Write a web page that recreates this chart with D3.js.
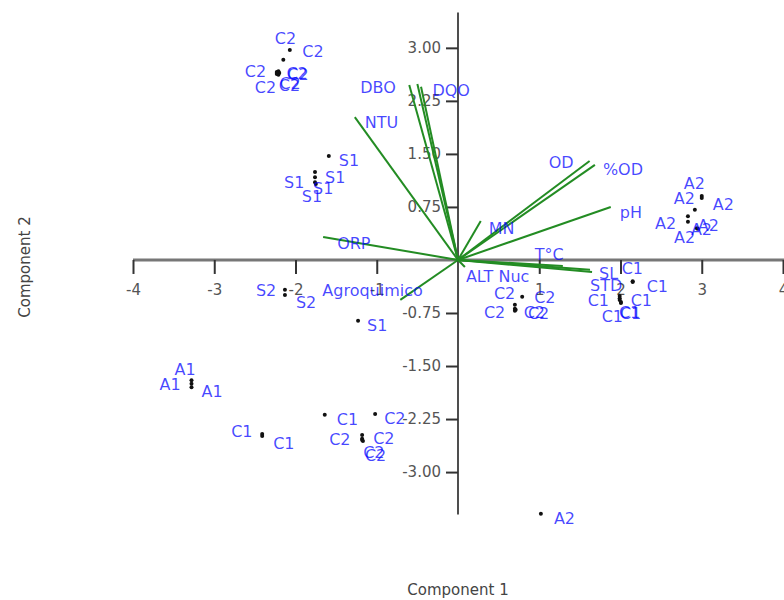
<!DOCTYPE html>
<html><head><meta charset="utf-8">
<script src="https://cdn.jsdelivr.net/npm/d3@7"></script>
<style>body{margin:0;background:#fff}</style>
</head><body>
<svg id="chart" width="784" height="600"></svg>
<script>
// ---------- DATA ----------
const sampleLabels = ["C2","C2","C2","C2","C2","C2","C2","C2",
  "S1","S1","S1","S1","S1","S2","S2","S1","A1","A1","A1",
  "C1","C1","C1","C2","C2","C2","C2","C2","A2",
  "C2","C2","C2","C2","C2","C1","C1","C1","C1","C1","C1","C1",
  "A2","A2","A2","A2","A2","A2","A2"];
const scoreX = [-2.07,-2.15,-2.23,-2.21,-2.20,-2.23,-2.21,-2.23,
  -1.59,-1.76,-1.76,-1.76,-1.75,-2.13,-2.13,-1.23,-3.28,-3.28,-3.28,
  -2.41,-2.41,-1.64,-1.02,-1.18,-1.18,-1.18,-1.17,1.02,
  0.79,0.70,0.70,0.71,0.70,2.15,2.15,1.99,1.99,1.99,2.005,2.005,
  3.00,2.915,3.00,2.83,2.83,2.94,2.95];
const scoreY = [2.97,2.83,2.66,2.67,2.645,2.63,2.62,2.645,
  1.47,1.245,1.17,1.10,1.075,-0.42,-0.495,-0.86,-1.70,-1.75,-1.80,
  -2.46,-2.49,-2.19,-2.18,-2.475,-2.53,-2.545,-2.56,-3.59,
  -0.52,-0.635,-0.69,-0.705,-0.72,-0.30,-0.31,-0.51,-0.54,-0.565,-0.595,-0.61,
  0.905,0.71,0.875,0.62,0.54,0.45,0.44];

const variableNames = ["DBO","DQO","","NTU","OD","%OD","pH","MN","ORP","Agroquimico","SL","STD","T°C","ALT Nuc"];
const loadingX = [-0.60,-0.50,-0.455,-1.27,1.62,1.685,1.88,0.28,-1.66,-0.71,1.65,1.625,1.29,0.085];
const loadingY = [2.475,2.49,2.45,2.02,1.40,1.345,0.75,0.55,0.325,-0.565,-0.17,-0.14,-0.085,-0.10];

const xTickValues = [-4,-3,-2,-1,1,2,3,4];
const yTickValues = [3,2.25,1.5,0.75,-0.75,-1.5,-2.25,-3];
const xTitle = "Component 1";
const yTitle = "Component 2";

// ---------- LAYOUT (label nudges in px) ----------
const sampleLabelNudge = [[-15,-12],[19,-8],[-32,0],[8,2],[8,1],[-22,13],[1,9],[2,12],
  [10,4],[10,5],[-31,5],[-2,6],[-14,12],[-29,1],[11,7],[9,5],[-17,-11],[-32,1],[10,4],
  [-31,-2],[11,7],[12,5],[9,4],[-33,4],[11,0],[1,12],[2,14],[13,5],
  [12,1],[-21,-11],[-31,4],[8,3],[13,3],[-11,-13],[14,5],[-32,4],[11,2],[-18,16],[-2,10],[-1,10],
  [-18,-13],[-21,-11],[11,6],[-33,7],[-14,16],[-6,1],[0,-3]];
const variableLabelNudge = [[-49,2],[15,6],[0,0],[10,5],[-41,1],[8,5],[9,5],[8,7],[14,6],[-78,-10],[7,1],[0,16],[-28,-12],[1,9]];

const FONT = "DejaVu Sans, Verdana, sans-serif";
const svg = d3.select("#chart");
const x = d3.scaleLinear().domain([-4, 4]).range([133, 783]);
const y = d3.scaleLinear().domain([-3.6, 3.5]).range([514.5, 12.5]);
const x0 = x(0), y0 = y(0);

// axis lines
svg.append("line").attr("x1", x(-4)).attr("x2", 784).attr("y1", y0).attr("y2", y0)
  .attr("stroke", "#777").attr("stroke-width", 3);
svg.append("line").attr("x1", x0).attr("x2", x0).attr("y1", y(3.5)).attr("y2", y(-3.6))
  .attr("stroke", "#222").attr("stroke-width", 1.6);

// axes ticks
const gx = svg.append("g").attr("transform", `translate(0,${y0})`)
  .call(d3.axisBottom(x).tickValues(xTickValues).tickSize(14).tickPadding(10).tickFormat(d => String(d)));
const gy = svg.append("g").attr("transform", `translate(${x0},0)`)
  .call(d3.axisLeft(y).tickValues(yTickValues).tickSize(12).tickPadding(5).tickFormat(d => d.toFixed(2)));
[gx, gy].forEach(g => {
  g.select(".domain").remove();
  g.selectAll(".tick line").attr("stroke", "#333").attr("stroke-width", 2);
  g.selectAll(".tick text").attr("fill", "#555").style("font-family", FONT).style("font-size", "15px");
});

// loading vectors
svg.append("g").selectAll("line").data(variableNames).join("line")
  .attr("x1", x0).attr("y1", y0)
  .attr("x2", (d, i) => x(loadingX[i])).attr("y2", (d, i) => y(loadingY[i]))
  .attr("stroke", "#238c23").attr("stroke-width", 2);

// score points
svg.append("g").selectAll("circle").data(sampleLabels).join("circle")
  .attr("cx", (d, i) => x(scoreX[i])).attr("cy", (d, i) => y(scoreY[i]))
  .attr("r", 2).attr("fill", "#111");

// sample labels
svg.append("g").selectAll("text").data(sampleLabels).join("text")
  .attr("x", (d, i) => x(scoreX[i]) + sampleLabelNudge[i][0])
  .attr("y", (d, i) => y(scoreY[i]) + sampleLabelNudge[i][1])
  .attr("dy", "0.35em")
  .attr("fill", "#0000ff").attr("fill-opacity", 0.72)
  .style("font-family", FONT).style("font-size", "16px")
  .text(d => d);

// variable labels
svg.append("g").selectAll("text").data(variableNames).join("text")
  .attr("x", (d, i) => x(loadingX[i]) + variableLabelNudge[i][0])
  .attr("y", (d, i) => y(loadingY[i]) + variableLabelNudge[i][1])
  .attr("dy", "0.35em")
  .attr("fill", "#0000ff").attr("fill-opacity", 0.72)
  .style("font-family", FONT).style("font-size", "16px")
  .text(d => d);

// axis titles
svg.append("text").attr("x", 458).attr("y", 595).attr("text-anchor", "middle")
  .attr("fill", "#444").style("font-family", FONT).style("font-size", "15px").text(xTitle);
svg.append("text").attr("transform", "translate(25,267) rotate(-90)").attr("dy", "0.35em")
  .attr("text-anchor", "middle").attr("fill", "#444")
  .style("font-family", FONT).style("font-size", "15px").text(yTitle);
</script>
</body></html>
